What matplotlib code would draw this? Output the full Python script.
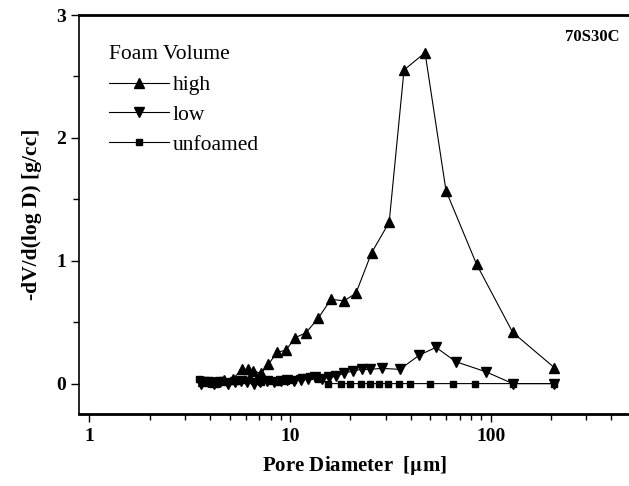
import numpy as np
import matplotlib
matplotlib.use('Agg')
import matplotlib.pyplot as plt
from matplotlib.ticker import FixedLocator, NullFormatter
plt.rcParams['font.family'] = ['Liberation Serif', 'DejaVu Serif']
plt.rcParams['mathtext.fontset'] = 'stix'

# pore diameter [um] and -dV/d(log D) [g/cc]
d_high = [3.7, 4.2, 4.7, 5.2, 5.75, 6.2, 6.56, 7.17, 7.8, 8.6, 9.55, 10.6, 12.0, 13.8,
          16.0, 18.6, 21.3, 25.5, 31.2, 37.0, 47.1, 59.9, 85.1, 128.8, 208]
v_high = [0.02, 0.01, 0.03, 0.04, 0.116, 0.116, 0.104, 0.083, 0.156, 0.254, 0.273, 0.373, 0.414, 0.531,
          0.686, 0.674, 0.735, 1.065, 1.313, 2.553, 2.694, 1.57, 0.971, 0.417, 0.129]

d_low = [3.6, 3.9, 4.2, 4.5, 4.9, 5.3, 5.7, 6.1, 6.6, 7.1, 7.7, 8.3, 9.0, 9.7, 10.5, 11.4,
         12.3, 13.3, 14.4, 15.6, 16.9, 18.5, 20.7, 22.8, 25.0, 28.7, 35.3, 44.1, 53.4, 67.1,
         94.8, 128.8, 208]
v_low = [0.0, 0.01, 0.0, 0.01, 0.0, 0.01, 0.02, 0.01, 0.0, 0.01, 0.02, 0.01, 0.02, 0.03, 0.02, 0.03,
         0.04, 0.05, 0.04, 0.05, 0.06, 0.083, 0.104, 0.116, 0.116, 0.124, 0.116, 0.232, 0.295, 0.178,
         0.096, 0.0, 0.0]

d_unf = [3.5, 3.8, 4.2, 4.6, 5.0, 5.5, 6.0, 6.6, 7.2, 7.9, 8.7, 9.5, 10.4, 11.4, 12.5, 13.8,
         15.5, 18.0, 20.0, 22.6, 25.0, 27.9, 30.9, 35.0, 39.6, 49.9, 65.1, 83.5, 128.8, 208]
v_unf = [0.04, 0.03, 0.02, 0.03, 0.02, 0.02, 0.03, 0.02, 0.01, 0.02, 0.01, 0.02, 0.03, 0.05, 0.06, 0.04,
         0.0, 0.0, 0.0, 0.0, 0.0, 0.0, 0.0, 0.0, 0.0, 0.0, 0.0, 0.0, 0.0, 0.0]

fig = plt.figure(figsize=(6.29, 4.86), dpi=100)
ax = fig.add_axes([0.126, 0.1475, 0.877, 0.8215])

ax.plot(d_high, v_high, '-', color='black', lw=0.8, marker='^', ms=7, label='high')
ax.plot(d_low, v_low, '-', color='black', lw=0.8, marker='v', ms=7, label='low')
ax.plot(d_unf, v_unf, '-', color='black', lw=0.8, marker='s', ms=5, label='unfoamed')

ax.set_xscale('log')
ax.set_xlim(0.89, 500)
ax.set_ylim(-0.25, 3)
ax.set_xticks([1, 10, 100])
ax.set_xticklabels(['1', '10', '100'])
minor_x = [m * 10 ** e for e in range(0, 3) for m in range(2, 10)]
ax.xaxis.set_minor_locator(FixedLocator(minor_x))
ax.xaxis.set_minor_formatter(NullFormatter())
ax.set_yticks([0, 1, 2, 3])
ax.set_yticks([0.5, 1.5, 2.5], minor=True)
ax.tick_params(which='major', direction='out', length=6, width=1, labelsize=14)
ax.tick_params(which='minor', direction='out', length=4, width=1)
for lab in ax.get_xticklabels() + ax.get_yticklabels():
    lab.set_fontweight('bold')

ax.spines['right'].set_visible(False)
for s in ['top', 'bottom']:
    ax.spines[s].set_linewidth(2)
ax.spines['left'].set_linewidth(1.2)

ax.set_xlabel('Pore Diameter  [$\\mathbf{\\mu}$m]', fontsize=15, fontweight='bold', labelpad=7)
ax.set_ylabel('-dV/d(log D) [g/cc]', fontsize=15.5, fontweight='bold', labelpad=10)

ax.text(0.98, 0.945, '70S30C', transform=ax.transAxes, fontsize=12, fontweight='bold',
        ha='right', va='center')

leg = ax.legend(title='Foam Volume', loc='upper left', bbox_to_anchor=(0.054, 0.925),
                frameon=False, fontsize=15.5, title_fontsize=15.5, handlelength=2.8,
                handletextpad=0.15, labelspacing=0.45, borderaxespad=0, borderpad=0)
leg._legend_box.align = 'left'
leg._legend_box.sep = 8

plt.savefig('out.png', dpi=100)
